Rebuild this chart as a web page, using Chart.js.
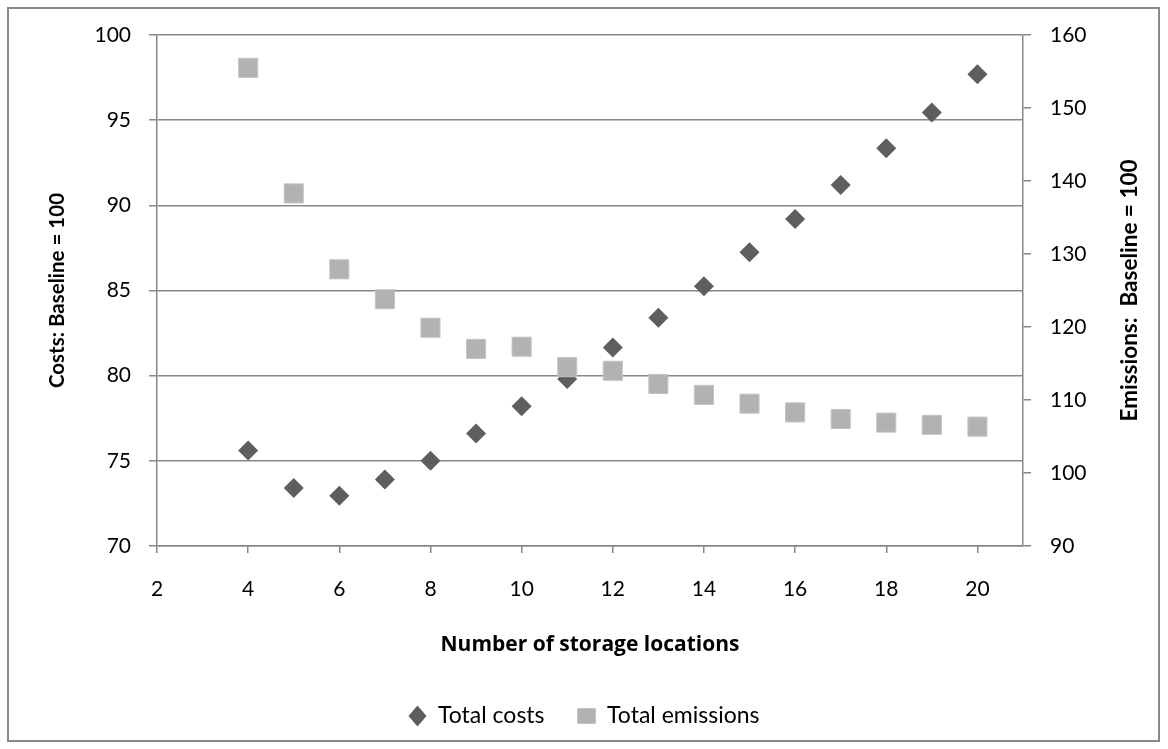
<!DOCTYPE html>
<html lang="en">
<head>
    <meta charset="UTF-8">
    <title>Costs and emissions by number of storage locations</title>
    <script src="https://cdn.jsdelivr.net/npm/chart.js@4.4.1/dist/chart.umd.min.js"></script>
    <style>
        body { margin: 0; background: #fff; }
        #wrap { position: relative; width: 1168px; height: 749px; }
        #wrap canvas { position: absolute; left: 0; top: 0; }
        #frame {
            position: absolute; left: 7px; top: 7px; width: 1153px; height: 735px;
            box-sizing: border-box; border: 2px solid #8a8a8a; pointer-events: none;
        }
    </style>
</head>
<body>
<div id="wrap">
    <canvas id="myChart" width="1168" height="749"></canvas>
    <div id="frame"></div>
</div>

<script>
    const locations = [4, 5, 6, 7, 8, 9, 10, 11, 12, 13, 14, 15, 16, 17, 18, 19, 20];
    const totalCosts = [75.6, 73.4, 72.95, 73.9, 75.0, 76.6, 78.2, 79.8, 81.65, 83.4, 85.25, 87.25, 89.2, 91.2, 93.35, 95.45, 97.7];
    const totalEmissions = [155.5, 138.3, 127.9, 123.8, 119.9, 117.0, 117.3, 114.5, 114.0, 112.2, 110.7, 109.5, 108.3, 107.4, 106.9, 106.6, 106.35];
    const xTicks = [2, 4, 6, 8, 10, 12, 14, 16, 18, 20];
    const costTicks = [70, 75, 80, 85, 90, 95, 100];
    const emissionTicks = [90, 100, 110, 120, 130, 140, 150, 160];

    const AXIS_GREY = '#878787';
    const FONT = 'Lato, "Open Sans", sans-serif';
    const EMISSIONS_TITLE = 'Emissions:  Baseline = 100';

    function toPoints(xs, ys) {
        return xs.map((x, i) => ({ x: x, y: ys[i] }));
    }

    function fixedTicks(values) {
        return scale => { scale.ticks = values.map(v => ({ value: v })); };
    }

    // right axis title reads bottom-to-top like the left one
    const rightTitle = {
        id: 'rightTitle',
        afterDraw(chart) {
            const ctx = chart.ctx;
            const area = chart.chartArea;
            ctx.save();
            ctx.translate(chart.scales.y2.right - 38, (area.top + area.bottom) / 2);
            ctx.rotate(-Math.PI / 2);
            ctx.font = 'bold 22.5px ' + FONT;
            ctx.fillStyle = '#000';
            ctx.textAlign = 'center';
            ctx.textBaseline = 'middle';
            ctx.fillText(EMISSIONS_TITLE, 0, 0);
            ctx.restore();
        }
    };

    const tickFont = { family: FONT, size: 21 };
    const titleFont = { family: FONT, size: 20.5, weight: 'bold' };

    new Chart(document.getElementById('myChart'), {
        type: 'scatter',
        data: {
            datasets: [{
                label: 'Total costs',
                data: toPoints(locations, totalCosts),
                yAxisID: 'y',
                pointStyle: 'rectRot',
                pointRadius: 10,
                pointHoverRadius: 10,
                backgroundColor: '#5e5e5e',
                borderColor: '#5e5e5e',
                borderWidth: 0,
                order: 2
            }, {
                label: 'Total emissions',
                data: toPoints(locations, totalEmissions),
                yAxisID: 'y2',
                pointStyle: 'rect',
                pointRadius: 13.5,
                pointHoverRadius: 13.5,
                backgroundColor: '#b2b2b2',
                borderColor: '#c4c4c4',
                borderWidth: 1,
                order: 1
            }]
        },
        options: {
            responsive: false,
            animation: false,
            layout: { padding: { top: 35, left: 0, right: 0, bottom: 11.5 } },
            scales: {
                x: {
                    type: 'linear',
                    min: 2,
                    max: 21,
                    afterBuildTicks: fixedTicks(xTicks),
                    afterFit: scale => { scale.height = 125.5; },
                    grid: { drawOnChartArea: false, drawTicks: true, tickLength: 7, color: AXIS_GREY, lineWidth: 1.5 },
                    border: { color: AXIS_GREY, width: 1.5 },
                    ticks: { font: tickFont, color: '#000', padding: 24 },
                    title: {
                        display: true, text: 'Number of storage locations',
                        font: { family: '"Open Sans", Lato, sans-serif', size: 21, weight: 'bold' },
                        color: '#000', padding: { top: 0, bottom: 14 }
                    }
                },
                y: {
                    position: 'left',
                    min: 70,
                    max: 100,
                    afterBuildTicks: fixedTicks(costTicks),
                    afterFit: scale => { scale.width = 157; },
                    grid: { drawTicks: true, tickLength: 8, color: AXIS_GREY, lineWidth: 1.5 },
                    border: { color: AXIS_GREY, width: 1.5 },
                    ticks: { font: tickFont, color: '#000', padding: 18 },
                    title: {
                        display: true, text: 'Costs: Baseline = 100',
                        font: titleFont, color: '#000', padding: { top: 45, bottom: 0 }
                    }
                },
                y2: {
                    position: 'right',
                    min: 90,
                    max: 160,
                    afterBuildTicks: fixedTicks(emissionTicks),
                    afterFit: scale => { scale.width = 145; },
                    grid: { drawOnChartArea: false, drawTicks: true, tickLength: 8, color: AXIS_GREY, lineWidth: 1.5 },
                    border: { color: AXIS_GREY, width: 1.5 },
                    ticks: { font: tickFont, color: '#000', padding: 19 }
                }
            },
            plugins: {
                tooltip: { enabled: false },
                legend: {
                    display: true,
                    position: 'bottom',
                    labels: {
                        usePointStyle: true,
                        boxHeight: 15,
                        pointStyleWidth: 18,
                        padding: 33,
                        color: '#000',
                        font: { family: FONT, size: 23 },
                        sort: (a, b) => a.datasetIndex - b.datasetIndex
                    }
                }
            }
        },
        plugins: [rightTitle]
    });
</script>

</body>
</html>
